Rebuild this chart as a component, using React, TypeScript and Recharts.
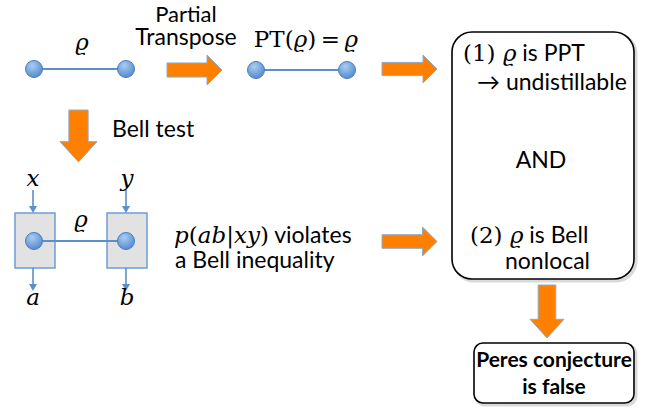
import {
  ReferenceArea,
  ReferenceLine,
  Scatter,
  ScatterChart,
  XAxis,
  YAxis,
} from "recharts";

// Whole diagram lives in slide coordinates (0..654 wide, 0..412 tall, y down)
const WIDTH = 654;
const HEIGHT = 412;

// qubit dots
const dots = [
  { x: 34, y: 69 },
  { x: 126, y: 69 },
  { x: 256, y: 70 },
  { x: 347, y: 70 },
  { x: 34, y: 241 },
  { x: 126, y: 241 },
];

// index pairs into dots
const bonds: [number, number][] = [
  [0, 1],
  [2, 3],
  [4, 5],
];

// big orange arrows: bounding boxes
const bigArrows = [
  { x1: 167, x2: 222, y1: 55, y2: 85, dir: "right" },
  { x1: 382, x2: 437, y1: 55, y2: 83, dir: "right" },
  { x1: 382, x2: 437, y1: 227, y2: 256, dir: "right" },
  { x1: 60, x2: 97, y1: 110, y2: 162, dir: "down" },
  { x1: 530, x2: 564, y1: 285, y2: 338, dir: "down" },
];

// measurement boxes in the Bell test
const bellBoxes = [
  { x1: 15, x2: 55, y1: 213, y2: 268 },
  { x1: 107, x2: 147, y1: 213, y2: 268 },
];

// small blue input / output arrows
const smallArrows = [
  { x1: 29, x2: 37, y1: 190, y2: 213 },
  { x1: 122, x2: 130, y1: 190, y2: 213 },
  { x1: 29, x2: 37, y1: 268, y2: 291 },
  { x1: 122, x2: 130, y1: 268, y2: 291 },
];

// rounded result boxes
const roundBoxes = [
  { x1: 452, x2: 634, y1: 32, y2: 279, r: 20 },
  { x1: 474, x2: 634, y1: 343, y2: 403, r: 9 },
];

// text pieces: kind "s" sans, "b" bold sans, "m" math upright, "i" math italic
type Part = [string, string];
const labels: { x: number; y: number; anchor: string; parts: Part[] }[] = [
  { x: 82, y: 50, anchor: "middle", parts: [["ϱ", "i"]] },
  { x: 186, y: 22, anchor: "middle", parts: [["Partial", "t"]] },
  { x: 186, y: 45, anchor: "middle", parts: [["Transpose", "s"]] },
  {
    x: 306,
    y: 47,
    anchor: "middle",
    parts: [["PT(", "m"], ["ϱ", "i"], [")\u2009=\u2009", "m"], ["ϱ", "i"]],
  },
  { x: 112, y: 137, anchor: "start", parts: [["Bell test", "s"]] },
  { x: 33, y: 186, anchor: "middle", parts: [["x", "i"]] },
  { x: 127, y: 186, anchor: "middle", parts: [["y", "i"]] },
  { x: 81, y: 227, anchor: "middle", parts: [["ϱ", "i"]] },
  { x: 33, y: 305, anchor: "middle", parts: [["a", "i"]] },
  { x: 127, y: 305, anchor: "middle", parts: [["b", "i"]] },
  {
    x: 174,
    y: 243,
    anchor: "start",
    parts: [
      ["p", "i"],
      ["(", "m"],
      ["ab", "i"],
      ["|", "m"],
      ["xy", "i"],
      [")", "m"],
      [" violates", "s"],
    ],
  },
  { x: 175, y: 268, anchor: "start", parts: [["a Bell inequality", "s"]] },
  {
    x: 463,
    y: 61,
    anchor: "start",
    parts: [["(1) ", "m"], ["ϱ", "i"], [" is PPT", "s"]],
  },
  { x: 477, y: 90, anchor: "start", parts: [["→ undistillable", "s"]] },
  { x: 541, y: 168, anchor: "middle", parts: [["AND", "s"]] },
  {
    x: 470,
    y: 243,
    anchor: "start",
    parts: [["(2) ", "m"], ["ϱ", "i"], [" is Bell", "s"]],
  },
  { x: 505, y: 269, anchor: "start", parts: [["nonlocal", "s"]] },
  { x: 554, y: 367, anchor: "middle", parts: [["Peres conjecture", "b"]] },
  { x: 554, y: 394, anchor: "middle", parts: [["is false", "b"]] },
];

const SANS = "Lato, 'Open Sans', sans-serif";
const SERIF = "'DejaVu Serif', 'Liberation Serif', serif";
const ORANGE = "#ff8000";
const BLUE = "#5b8fcb";

const partStyle: Record<string, React.SVGProps<SVGTSpanElement>> = {
  s: { fontFamily: SANS, fontSize: 23 },
  t: { fontFamily: SANS, fontSize: 22 },
  b: { fontFamily: SANS, fontSize: 21, fontWeight: 700 },
  m: { fontFamily: SERIF, fontSize: 23 },
  i: { fontFamily: SERIF, fontSize: 23, fontStyle: "italic" },
};

function DotShape(props: any) {
  const { cx, cy, index } = props;
  const id = `dotgrad-${index}`;
  return (
    <g>
      <defs>
        <radialGradient id={id} cx="40%" cy="30%" r="75%">
          <stop offset="0%" stopColor="#a9cdf3" />
          <stop offset="100%" stopColor="#4f87cc" />
        </radialGradient>
      </defs>
      <circle cx={cx} cy={cy} r={8.5} fill={`url(#${id})`} stroke="#4a7dbb" strokeWidth={1} />
    </g>
  );
}

function LabelShape(props: any) {
  const { cx, cy, payload } = props;
  return (
    <text x={cx} y={cy} textAnchor={payload.anchor} fill="#000">
      {payload.parts.map((p: Part, i: number) => (
        <tspan key={i} {...partStyle[p[1]]}>
          {p[0]}
        </tspan>
      ))}
    </text>
  );
}

function bigArrowShape(dir: string) {
  return (props: any) => {
    const { x, y, width: w, height: h } = props;
    let d: string;
    if (dir === "right") {
      const cy = y + h / 2;
      const bh = h * 0.47;
      const be = x + w - h * 0.5;
      d = `M${x},${cy - bh / 2}L${be},${cy - bh / 2}L${be},${y}L${x + w},${cy}L${be},${y + h}L${be},${cy + bh / 2}L${x},${cy + bh / 2}Z`;
    } else {
      const cx = x + w / 2;
      const bw = w * 0.52;
      const be = y + h - w * 0.55;
      d = `M${cx - bw / 2},${y}L${cx - bw / 2},${be}L${x},${be}L${cx},${y + h}L${x + w},${be}L${cx + bw / 2},${be}L${cx + bw / 2},${y}Z`;
    }
    return <path d={d} fill={ORANGE} stroke="#8fabcc" strokeWidth={1} />;
  };
}

function SmallArrowShape(props: any) {
  const { x, y, width: w, height: h } = props;
  const cx = x + w / 2;
  const tip = y + h;
  return (
    <g>
      <line x1={cx} y1={y} x2={cx} y2={tip - 5} stroke={BLUE} strokeWidth={1.6} />
      <path d={`M${cx - 4},${tip - 7}L${cx},${tip}L${cx + 4},${tip - 7}Z`} fill={BLUE} />
    </g>
  );
}

function BellBoxShape(props: any) {
  const { x, y, width, height } = props;
  return (
    <rect x={x} y={y} width={width} height={height} fill="#e2e2e2" stroke="#6e9dd3" strokeWidth={1.5} />
  );
}

function roundBoxShape(r: number) {
  return (props: any) => {
    const { x, y, width, height } = props;
    return (
      <g>
        <rect x={x + 2} y={y + 2} width={width} height={height} rx={r} fill="none" stroke="#000" strokeOpacity={0.15} strokeWidth={3} />
        <rect x={x} y={y} width={width} height={height} rx={r} fill="#fff" stroke="#000" strokeWidth={1.6} />
      </g>
    );
  };
}

export default function App() {
  return (
    <div style={{ position: "fixed", left: 0, top: 0, background: "#fff" }}>
      <ScatterChart width={WIDTH} height={HEIGHT} margin={{ top: 0, right: 0, bottom: 0, left: 0 }}>
        <XAxis type="number" dataKey="x" domain={[0, WIDTH]} hide />
        <YAxis type="number" dataKey="y" domain={[0, HEIGHT]} reversed hide />

        {roundBoxes.map((b, i) => (
          <ReferenceArea key={`rb${i}`} x1={b.x1} x2={b.x2} y1={b.y1} y2={b.y2} shape={roundBoxShape(b.r)} />
        ))}
        {bellBoxes.map((b, i) => (
          <ReferenceArea key={`bb${i}`} x1={b.x1} x2={b.x2} y1={b.y1} y2={b.y2} shape={BellBoxShape} />
        ))}
        {bigArrows.map((a, i) => (
          <ReferenceArea key={`ba${i}`} x1={a.x1} x2={a.x2} y1={a.y1} y2={a.y2} shape={bigArrowShape(a.dir)} />
        ))}
        {smallArrows.map((a, i) => (
          <ReferenceArea key={`sa${i}`} x1={a.x1} x2={a.x2} y1={a.y1} y2={a.y2} shape={SmallArrowShape} />
        ))}
        {bonds.map(([p, q], i) => (
          <ReferenceLine
            key={`bond${i}`}
            segment={[dots[p], dots[q]]}
            stroke={BLUE}
            strokeWidth={1.8}
          />
        ))}

        <Scatter data={dots} shape={DotShape} isAnimationActive={false} />
        <Scatter data={labels} shape={LabelShape} isAnimationActive={false} />
      </ScatterChart>
    </div>
  );
}
